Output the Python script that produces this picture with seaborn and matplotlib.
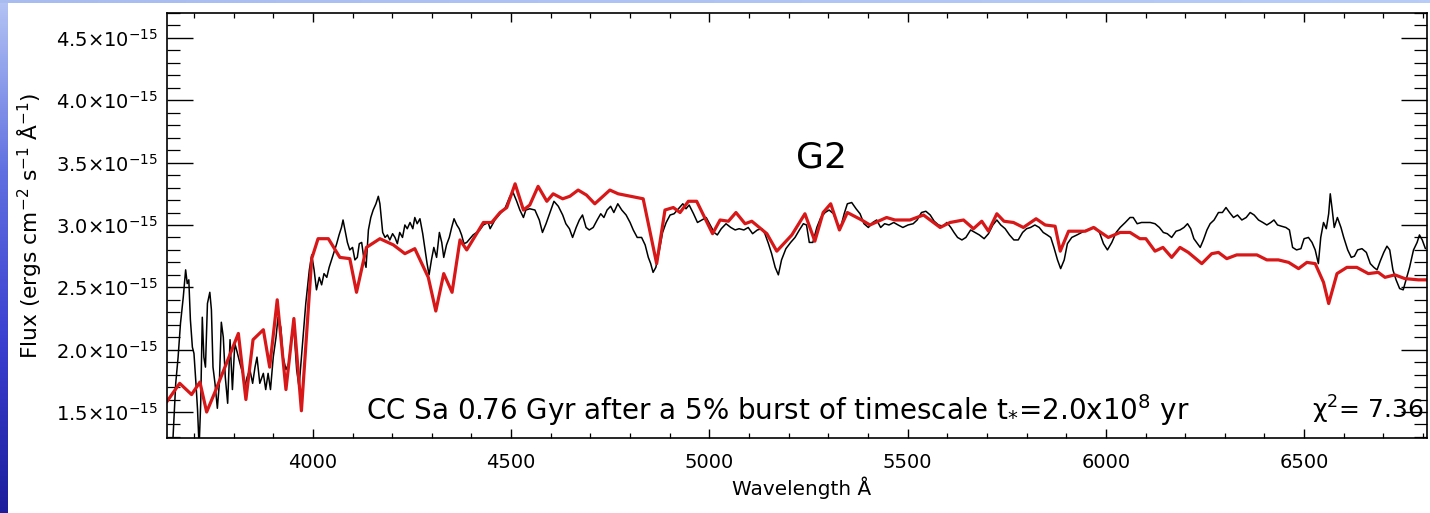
import numpy as np
import pandas as pd
import matplotlib
matplotlib.use("Agg")
import matplotlib.pyplot as plt
import seaborn as sns
from matplotlib.ticker import FixedLocator, MultipleLocator, FuncFormatter
from matplotlib.colors import LinearSegmentedColormap

# ---------------- data (flux in units of 1e-15 erg/s/cm2/A) ----------------
wave_obs = [3646, 3654, 3660, 3666, 3673, 3679, 3683, 3687, 3691, 3696, 3700, 3705, 3709, 3713, 3717,
            3721, 3725, 3729, 3734, 3740, 3744, 3748, 3753, 3759, 3764, 3769, 3774, 3779, 3785, 3791,
            3797, 3803, 3809, 3816, 3823, 3828, 3834, 3841, 3848, 3854, 3859, 3866, 3875, 3881, 3887,
            3893, 3900, 3907, 3912, 3919, 3925, 3932, 3939, 3946, 3952, 3959, 3965, 3974, 3982, 3991,
            3997, 4003, 4009, 4016, 4022, 4028, 4035, 4041, 4047, 4053, 4060, 4066, 4072, 4076, 4081,
            4087, 4093, 4100, 4106, 4112, 4117, 4123, 4129, 4134, 4140, 4146, 4152, 4159, 4165, 4169,
            4176, 4182, 4188, 4194, 4201, 4207, 4213, 4219, 4226, 4232, 4238, 4245, 4252, 4257, 4263,
            4270, 4277, 4283, 4288, 4293, 4299, 4305, 4312, 4319, 4325, 4330, 4337, 4344, 4350, 4356,
            4363, 4369, 4375, 4381, 4388, 4396, 4404, 4413, 4421, 4430, 4442, 4447, 4459, 4472, 4484,
            4497, 4505, 4514, 4522, 4531, 4537, 4547, 4560, 4571, 4579, 4588, 4598, 4608, 4619, 4630,
            4638, 4647, 4655, 4664, 4672, 4680, 4689, 4697, 4707, 4717, 4726, 4734, 4742, 4751, 4759,
            4769, 4779, 4790, 4800, 4808, 4818, 4829, 4838, 4846, 4852, 4858, 4865, 4874, 4882, 4891,
            4901, 4911, 4922, 4933, 4941, 4949, 4960, 4970, 4981, 4992, 5002, 5012, 5020, 5030, 5042,
            5054, 5065, 5075, 5087, 5098, 5109, 5121, 5132, 5140, 5149, 5157, 5166, 5174, 5182, 5193,
            5205, 5216, 5227, 5237, 5245, 5252, 5261, 5271, 5281, 5292, 5302, 5313, 5323, 5331, 5340,
            5348, 5359, 5370, 5380, 5390, 5401, 5412, 5422, 5432, 5442, 5453, 5465, 5476, 5488, 5501,
            5514, 5524, 5535, 5546, 5557, 5567, 5578, 5589, 5599, 5609, 5617, 5626, 5637, 5647, 5659,
            5670, 5681, 5693, 5704, 5715, 5725, 5735, 5746, 5757, 5768, 5779, 5790, 5800, 5810, 5821,
            5832, 5842, 5852, 5861, 5869, 5878, 5886, 5895, 5903, 5914, 5927, 5939, 5952, 5962, 5973,
            5984, 5994, 6004, 6015, 6026, 6036, 6049, 6061, 6069, 6079, 6090, 6101, 6112, 6124, 6135,
            6145, 6155, 6166, 6177, 6187, 6197, 6206, 6214, 6222, 6231, 6238, 6246, 6255, 6263, 6273,
            6284, 6294, 6303, 6312, 6322, 6332, 6343, 6354, 6364, 6374, 6385, 6396, 6406, 6416, 6424,
            6433, 6443, 6454, 6463, 6471, 6481, 6492, 6500, 6511, 6520, 6528, 6536, 6542, 6549, 6556,
            6562, 6566, 6571, 6576, 6584, 6593, 6600, 6610, 6619, 6627, 6635, 6646, 6657, 6667, 6676,
            6684, 6692, 6701, 6709, 6716, 6724, 6732, 6741, 6750, 6758, 6766, 6776, 6785, 6791, 6798,
            6806]
flux_obs = [1.22, 1.73, 1.94, 2.21, 2.42, 2.64, 2.53, 2.56, 2.24, 2.02, 1.97, 1.73, 1.52, 1.22, 1.57,
            2.26, 1.94, 1.86, 2.37, 2.46, 2.32, 1.86, 1.73, 1.53, 1.73, 2.22, 2.10, 1.78, 1.57, 2.08,
            1.68, 2.05, 1.98, 1.89, 1.81, 1.70, 1.78, 1.84, 1.73, 1.86, 1.94, 1.73, 1.81, 1.68, 1.81,
            1.68, 1.94, 2.10, 2.26, 2.18, 1.94, 1.84, 1.89, 2.10, 2.18, 1.84, 1.70, 2.05, 2.37, 2.64,
            2.76, 2.64, 2.48, 2.58, 2.52, 2.61, 2.58, 2.66, 2.72, 2.78, 2.85, 2.92, 2.98, 3.04, 2.96,
            2.86, 2.80, 2.82, 2.72, 2.74, 2.85, 2.86, 2.72, 2.66, 2.96, 3.06, 3.12, 3.17, 3.23, 3.17,
            2.94, 2.90, 2.92, 2.88, 2.93, 2.90, 2.85, 2.94, 2.90, 3.00, 2.97, 3.02, 2.97, 3.06, 3.01,
            3.05, 2.93, 2.80, 2.69, 2.60, 2.72, 2.82, 2.74, 2.94, 2.86, 2.74, 2.84, 2.90, 2.98, 3.05,
            3.00, 2.97, 2.92, 2.85, 2.86, 2.89, 2.92, 2.94, 2.96, 3.00, 3.02, 2.97, 3.04, 3.09, 3.13,
            3.23, 3.26, 3.19, 3.12, 3.06, 3.12, 3.13, 3.12, 3.04, 2.94, 3.01, 3.10, 3.19, 3.15, 3.08,
            3.01, 2.97, 2.90, 2.98, 3.04, 3.08, 2.98, 2.96, 2.98, 3.04, 3.09, 3.06, 3.12, 3.15, 3.10,
            3.17, 3.12, 3.08, 3.02, 2.96, 2.90, 2.90, 2.84, 2.74, 2.69, 2.62, 2.66, 2.80, 2.94, 3.02,
            3.08, 3.09, 3.13, 3.17, 3.13, 3.16, 3.09, 3.02, 3.04, 3.06, 3.00, 2.94, 2.92, 2.97, 3.01,
            2.98, 2.96, 2.97, 2.96, 2.98, 2.93, 2.96, 2.97, 2.93, 2.85, 2.77, 2.66, 2.60, 2.72, 2.81,
            2.86, 2.90, 2.96, 3.01, 3.00, 2.86, 2.86, 2.98, 3.06, 3.10, 3.12, 3.09, 3.01, 2.98, 3.09,
            3.17, 3.18, 3.13, 3.09, 3.01, 2.98, 3.02, 3.04, 2.98, 3.01, 3.00, 3.02, 3.00, 2.98, 3.00,
            3.01, 3.04, 3.10, 3.11, 3.08, 3.03, 3.00, 2.99, 3.02, 2.98, 2.94, 2.90, 2.88, 2.90, 2.96,
            2.94, 2.92, 2.89, 2.93, 3.00, 3.04, 3.00, 2.97, 2.92, 2.88, 2.88, 2.94, 2.97, 2.98, 3.00,
            2.98, 2.94, 2.92, 2.90, 2.82, 2.72, 2.65, 2.72, 2.85, 2.90, 2.92, 2.94, 2.96, 2.97, 2.98,
            2.94, 2.85, 2.80, 2.86, 2.94, 2.98, 3.02, 3.06, 3.06, 3.01, 3.02, 3.02, 3.02, 3.01, 2.98,
            2.94, 2.93, 2.90, 2.95, 2.96, 2.98, 3.01, 2.97, 2.89, 2.85, 2.82, 2.88, 2.96, 3.01, 3.04,
            3.10, 3.10, 3.14, 3.10, 3.06, 3.08, 3.04, 3.06, 3.10, 3.08, 3.04, 3.02, 3.00, 3.02, 3.04,
            3.00, 2.99, 2.98, 2.96, 2.82, 2.80, 2.81, 2.89, 2.90, 2.86, 2.80, 2.69, 2.90, 3.02, 2.97,
            3.09, 3.25, 3.12, 2.98, 3.06, 2.98, 2.90, 2.80, 2.74, 2.75, 2.80, 2.81, 2.78, 2.69, 2.66,
            2.64, 2.71, 2.78, 2.83, 2.80, 2.64, 2.56, 2.49, 2.48, 2.57, 2.66, 2.80, 2.86, 2.92, 2.88,
            2.81]

wave_model = [3631, 3664, 3694, 3715, 3732, 3753, 3812, 3831, 3849, 3875, 3891, 3910, 3932, 3952, 3971,
              3997, 4013, 4039, 4068, 4093, 4110, 4135, 4169, 4203, 4232, 4257, 4291, 4310, 4330, 4351,
              4371, 4388, 4430, 4451, 4472, 4489, 4510, 4531, 4547, 4568, 4590, 4606, 4630, 4648, 4669,
              4690, 4711, 4749, 4770, 4833, 4867, 4888, 4909, 4926, 4947, 4968, 5008, 5027, 5048, 5067,
              5090, 5107, 5145, 5170, 5208, 5241, 5266, 5287, 5306, 5328, 5348, 5384, 5405, 5447, 5468,
              5506, 5540, 5582, 5607, 5641, 5666, 5687, 5704, 5725, 5743, 5767, 5792, 5824, 5847, 5872,
              5885, 5906, 5948, 5969, 6006, 6036, 6061, 6086, 6101, 6124, 6144, 6166, 6187, 6208, 6242,
              6267, 6284, 6305, 6330, 6381, 6406, 6435, 6461, 6486, 6507, 6528, 6549, 6562, 6583, 6608,
              6633, 6662, 6687, 6704, 6729, 6754, 6788, 6817]
flux_model = [1.58, 1.73, 1.64, 1.74, 1.50, 1.66, 2.13, 1.60, 2.08, 2.16, 1.86, 2.40, 1.68, 2.25, 1.51,
              2.73, 2.89, 2.89, 2.74, 2.73, 2.46, 2.82, 2.89, 2.84, 2.77, 2.81, 2.58, 2.31, 2.61, 2.46,
              2.88, 2.80, 3.02, 3.02, 3.10, 3.14, 3.33, 3.12, 3.16, 3.31, 3.19, 3.25, 3.21, 3.23, 3.28,
              3.24, 3.17, 3.28, 3.25, 3.21, 2.69, 3.12, 3.14, 3.10, 3.19, 3.19, 2.93, 3.04, 3.03, 3.10,
              3.01, 3.03, 2.93, 2.79, 2.92, 3.09, 2.87, 3.10, 3.17, 2.96, 3.10, 3.04, 3.00, 3.06, 3.04,
              3.04, 3.08, 2.98, 3.02, 3.04, 2.97, 3.03, 2.95, 3.09, 3.03, 3.02, 2.98, 3.05, 3.00, 2.99,
              2.79, 2.95, 2.95, 2.98, 2.90, 2.94, 2.94, 2.89, 2.89, 2.79, 2.82, 2.74, 2.82, 2.78, 2.69,
              2.77, 2.78, 2.73, 2.76, 2.76, 2.72, 2.72, 2.70, 2.65, 2.70, 2.69, 2.54, 2.37, 2.61, 2.66,
              2.66, 2.61, 2.62, 2.58, 2.60, 2.57, 2.56, 2.56]

x_ticks = [4000, 4500, 5000, 5500, 6000, 6500]
y_ticks = [1.5, 2.0, 2.5, 3.0, 3.5, 4.0, 4.5]   # in units of 1e-15

title_text = "G2"
model_text = "CC Sa 0.76 Gyr after a 5% burst of timescale t$_{*}$=2.0x10$^{8}$ yr"
chi_text = "$\\chi^{2}$= 7.36"
x_label = "Wavelength Å"
y_label = "Flux (ergs cm$^{-2}$ s$^{-1}$ Å$^{-1}$)"

# ---------------- style ----------------
sns.set_style("white")
plt.rcParams['font.family'] = ['DejaVu Sans']
plt.rcParams['mathtext.default'] = 'regular'
plt.rcParams['text.color'] = 'black'
plt.rcParams['axes.labelcolor'] = 'black'
plt.rcParams['xtick.color'] = 'black'
plt.rcParams['ytick.color'] = 'black'

W, H = 1430, 513
fig = plt.figure(figsize=(W / 100, H / 100), dpi=100)
fig.patch.set_facecolor("white")

L, R, T, B = 167, 1427, 13, 437.7
ax = fig.add_axes([L / W, 1 - B / H, (R - L) / W, (B - T) / H])

scale = 1e-15
df_obs = pd.DataFrame({"wave": wave_obs, "flux": np.array(flux_obs) * scale})
df_mod = pd.DataFrame({"wave": wave_model, "flux": np.array(flux_model) * scale})

sns.lineplot(data=df_obs, x="wave", y="flux", ax=ax, color="black", linewidth=1.1,
             estimator=None, sort=False)
sns.lineplot(data=df_mod, x="wave", y="flux", ax=ax, color="#d81818", linewidth=2.3,
             estimator=None, sort=False)

ax.set_xlim(3632, 6810)
ax.set_ylim(1.294 * scale, 4.70 * scale)

ax.xaxis.set_major_locator(FixedLocator(x_ticks))
ax.xaxis.set_minor_locator(MultipleLocator(100))
ax.yaxis.set_major_locator(FixedLocator([v * scale for v in y_ticks]))
ax.yaxis.set_minor_locator(MultipleLocator(0.1 * scale))
ax.yaxis.set_major_formatter(FuncFormatter(lambda v, p: f"{v / scale:.1f}×10$^{{-15}}$"))
ax.xaxis.set_major_formatter(FuncFormatter(lambda v, p: f"{int(round(v))}"))

ax.tick_params(axis="x", which="major", direction="in", length=6.5, width=1.0,
               top=True, bottom=True, labelsize=14, pad=11, colors="black")
ax.tick_params(axis="x", which="minor", direction="in", length=3.8, width=0.9,
               top=True, bottom=True)
ax.tick_params(axis="y", which="major", direction="in", length=18.5, width=1.0,
               left=True, right=True, labelsize=14, pad=6.5, colors="black")
ax.tick_params(axis="y", which="minor", direction="in", length=9.5, width=0.9,
               left=True, right=True)
for s in ax.spines.values():
    s.set_visible(True)
    s.set_color("black")
    s.set_linewidth(1.2)

ax.set_xlabel(x_label, fontsize=14.4)
ax.xaxis.label.set_va("center")
ax.xaxis.set_label_coords((802 - L) / (R - L), -(488 - B) / (B - T))
ax.set_ylabel(y_label, fontsize=15.7)
ax.yaxis.label.set_va("center")
ax.yaxis.set_label_coords(-(L - 30) / (R - L), (B - 226) / (B - T))

ax.text((822 - L) / (R - L), (B - 158) / (B - T), title_text, transform=ax.transAxes,
        fontsize=26, ha="center", va="center")
ax.text((366 - L) / (R - L), (B - 410) / (B - T), model_text, transform=ax.transAxes,
        fontsize=20, ha="left", va="center")
ax.text((1312 - L) / (R - L), (B - 410) / (B - T), chi_text, transform=ax.transAxes,
        fontsize=18, ha="left", va="center")

# ---------------- blue slide frame ----------------
cmap = LinearSegmentedColormap.from_list("slide", ["#b4c4f4", "#6070e0", "#3a3fd0", "#1c1e9c"])
band = fig.add_axes([0, 0, 8 / W, 1])
band.imshow(np.linspace(0, 1, 256).reshape(-1, 1), aspect="auto", cmap=cmap)
band.set_axis_off()
top = fig.add_axes([0, 1 - 3 / H, 1, 3 / H])
top.imshow(np.linspace(0, 1, 64).reshape(1, -1), aspect="auto",
           cmap=LinearSegmentedColormap.from_list("top", ["#a8bcf0", "#b8ccf8"]))
top.set_axis_off()

fig.savefig("out.png", dpi=100)
